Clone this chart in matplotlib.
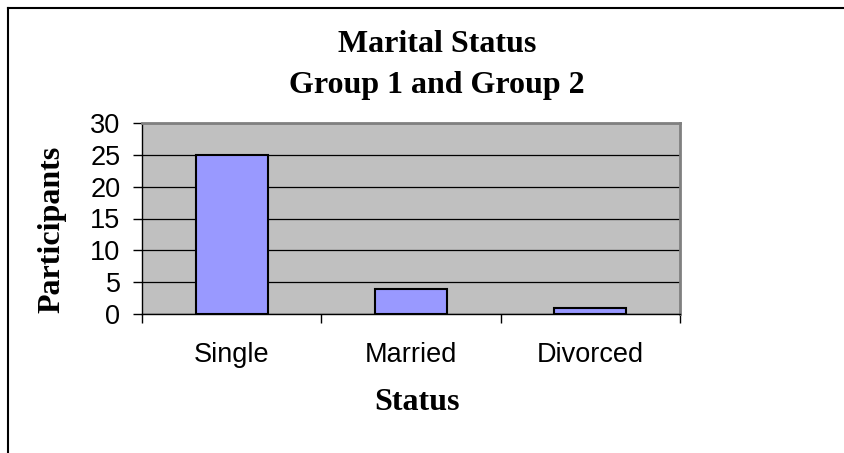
import matplotlib
matplotlib.use('Agg')
import matplotlib.pyplot as plt
from matplotlib.lines import Line2D

# Data
categories = ['Single', 'Married', 'Divorced']
participants = [25, 4, 1]
y_ticks = [0, 5, 10, 15, 20, 25, 30]

W, H = 844, 453
fig = plt.figure(figsize=(W / 100, H / 100), dpi=100)
fig.patch.set_facecolor('white')

# outer chart frame (cropped at right and bottom)
fig.add_artist(Line2D([8 / W, 8 / W], [-0.1, 1 - 8 / H], color='black', lw=1.5,
                      transform=fig.transFigure))
fig.add_artist(Line2D([8 / W, 1.1], [1 - 8 / H, 1 - 8 / H], color='black', lw=1.5,
                      transform=fig.transFigure))

ax = fig.add_axes([142 / W, 1 - 314 / H, 538 / W, 191 / H])
ax.set_facecolor('#C0C0C0')

x = list(range(len(categories)))
ax.bar(x, participants, width=0.4, color='#9999FF', edgecolor='black', linewidth=1.5, zorder=3)

ax.set_xlim(-0.5, len(categories) - 0.5)
ax.set_ylim(0, 30)
ax.set_yticks(y_ticks)
ax.set_yticklabels([str(v) for v in y_ticks], fontsize=19.5, family='Liberation Sans')
ax.yaxis.grid(True, color='black', linewidth=0.9, zorder=0)
ax.set_axisbelow(True)

# category labels, with ticks at category boundaries
ax.set_xticks(x)
ax.set_xticklabels(categories, fontsize=19.5, family='Liberation Sans')
ax.tick_params(axis='x', length=0, pad=20)
ax.set_xticks([-0.5, 0.5, 1.5, 2.5], minor=True)
ax.tick_params(axis='x', which='minor', length=6.5, width=1, color='black')
ax.tick_params(axis='y', length=6.5, width=1, pad=9)

for s in ['top', 'right']:
    ax.spines[s].set_color('#808080')
    ax.spines[s].set_linewidth(2)
ax.spines['left'].set_color('black')
ax.spines['bottom'].set_color('black')
ax.spines['left'].set_linewidth(1)
ax.spines['bottom'].set_linewidth(1)

serif = dict(fontsize=23, fontweight='bold', family='Liberation Serif')
fig.text(437 / W, 1 - 45 / H, 'Marital Status', ha='center', va='center', **serif)
fig.text(437 / W, 1 - 85 / H, 'Group 1 and Group 2', ha='center', va='center', **serif)
fig.text(417 / W, 1 - 402 / H, 'Status', ha='center', va='center', **serif)
fig.text(52 / W, 1 - 229 / H, 'Participants', ha='center', va='center', rotation=90, **serif)

fig.savefig('out.png', dpi=100)
plt.close(fig)
